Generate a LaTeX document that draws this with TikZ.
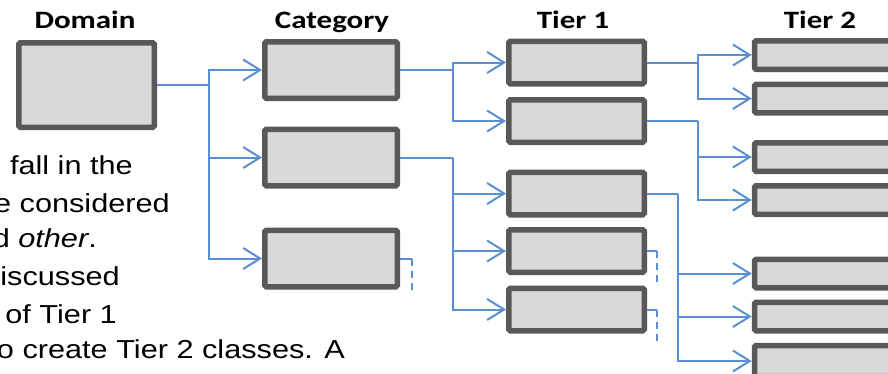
\documentclass[tikz,border=0pt]{standalone}
\usepackage{fontspec}
\setmainfont{Liberation Sans}
\newfontfamily\headfont{Carlito}
\usetikzlibrary{arrows.meta}
\definecolor{boxfill}{HTML}{D9D9D9}
\definecolor{boxline}{HTML}{595959}
\definecolor{linkblue}{HTML}{5A8FD0}
\tikzset{
  cls/.style={draw=boxline, fill=boxfill, line width=5.5pt, rounded corners=1.5pt, inner sep=0pt},
  link/.style={draw=linkblue, line width=2pt},
  arr/.style={link, -{Straight Barb[length=17pt,width=21pt,line width=2pt]}},
  cut/.style={link, dash pattern=on 7pt off 5pt},
  head/.style={font=\headfont\bfseries\fontsize{25}{30}\selectfont, anchor=base},
  body/.style={font=\fontsize{26}{31}\selectfont, anchor=base east, inner sep=0pt}
}
\begin{document}
\begin{tikzpicture}[x=1pt, y=-1pt]
        \useasboundingbox (0,0) rectangle (888,373);
        \clip (0,0) rectangle (888,373);

        % Column titles
        \node[head] (hdom) at (85,28) {\scalebox{1.24}[1]{Domain}};
        \node[head] (hcat) at (332,28) {\scalebox{1.24}[1]{Category}};
        \node[head] (htA) at (573,28) {\scalebox{1.24}[1]{Tier 1}};
        \node[head] (htB) at (820,28) {\scalebox{1.24}[1]{Tier 2}};

        % The Domain box
        \node[cls, minimum width=135.5pt, minimum height=84.5pt] (dom) at (86.5,85) {};

        % The Category boxes
        \node[cls, minimum width=132.5pt, minimum height=56.5pt] (cat1) at (331,70) {};
        \node[cls, minimum width=132.5pt, minimum height=56.5pt] (cat2) at (331,157.5) {};
        \node[cls, minimum width=132.5pt, minimum height=56.5pt] (cat3) at (331,258.5) {};

        % The Tier 1 boxes
        \node[cls, minimum width=135.5pt, minimum height=42.5pt] (tA1) at (576.5,62.5) {};
        \node[cls, minimum width=135.5pt, minimum height=42.5pt] (tA2) at (576.5,121) {};
        \node[cls, minimum width=135.5pt, minimum height=42.5pt] (tA3) at (576.5,193.5) {};
        \node[cls, minimum width=135.5pt, minimum height=42.5pt] (tA4) at (576.5,251) {};
        \node[cls, minimum width=135.5pt, minimum height=42.5pt] (tA5) at (576.5,309.5) {};

        % The Tier 2 boxes (run off the right edge)
        \node[cls, minimum width=155pt, minimum height=28.5pt] (tB1) at (832,55) {};
        \node[cls, minimum width=155pt, minimum height=28.5pt] (tB2) at (832,98.5) {};
        \node[cls, minimum width=155pt, minimum height=28.5pt] (tB3) at (832,157) {};
        \node[cls, minimum width=155pt, minimum height=28.5pt] (tB4) at (832,200) {};
        \node[cls, minimum width=155pt, minimum height=28.5pt] (tB5) at (832,273.5) {};
        \node[cls, minimum width=155pt, minimum height=28.5pt] (tB6) at (832,316.5) {};
        \node[cls, minimum width=155pt, minimum height=31pt] (tB7) at (832,361) {};

        % Branch points
        \coordinate (jdom) at (209,85);
        \coordinate (jcat1) at (453,70);
        \coordinate (jcat2) at (453,157.5);
        \coordinate (jtA1) at (698,62.5);
        \coordinate (jtA2) at (698,121);
        \coordinate (jtA3) at (678,193.5);

        % Domain to Category
        \draw[link] (dom.east) -- (jdom);
        \draw[arr] (jdom) |- (cat1.west);
        \draw[arr] (jdom) |- (cat2.west);
        \draw[arr] (jdom) |- (cat3.west);

        % Category to Tier 1
        \draw[link] (cat1.east) -- (jcat1);
        \draw[arr] (jcat1) |- (tA1.west);
        \draw[arr] (jcat1) |- (tA2.west);
        \draw[link] (cat2.east) -- (jcat2);
        \draw[arr] (jcat2) |- (tA3.west);
        \draw[arr] (jcat2) |- (tA4.west);
        \draw[arr] (jcat2) |- (tA5.west);
        \draw[link] (cat3.east) -- ++(12,0) coordinate (ecat3);
        \draw[cut] (ecat3) -- ++(0,34);

        % Tier 1 to Tier 2
        \draw[link] (tA1.east) -- (jtA1);
        \draw[arr] (jtA1) |- (tB1.west);
        \draw[arr] (jtA1) |- (tB2.west);
        \draw[link] (tA2.east) -- (jtA2);
        \draw[arr] (jtA2) |- (tB3.west);
        \draw[arr] (jtA2) |- (tB4.west);
        \draw[link] (tA3.east) -- (jtA3);
        \draw[arr] (jtA3) |- (tB5.west);
        \draw[arr] (jtA3) |- (tB6.west);
        \draw[arr] (jtA3) |- (tB7.west);
        \draw[link] (tA4.east) -- ++(10,0) coordinate (etA4);
        \draw[cut] (etA4) -- ++(0,35);
        \draw[link] (tA5.east) -- ++(10,0) coordinate (etA5);
        \draw[cut] (etA5) -- ++(0,36);

        % Text cut off at the left edge
        \node[body] (txt1) at (133,174) {\scalebox{1.18}[1]{fall in the}};
        \node[body] (txt2) at (170,212) {\scalebox{1.18}[1]{e considered}};
        \node[body] (txt3) at (97,247) {\scalebox{1.18}[1]{d \textit{other}.}};
        \node[body] (txt4) at (120,285) {\scalebox{1.18}[1]{iscussed}};
        \node[body] (txt5) at (117,323) {\scalebox{1.18}[1]{of Tier 1}};
        \node[body] (txt6) at (345,358) {\scalebox{1.18}[1]{o create Tier 2 classes. A}};
\end{tikzpicture}
\end{document}
